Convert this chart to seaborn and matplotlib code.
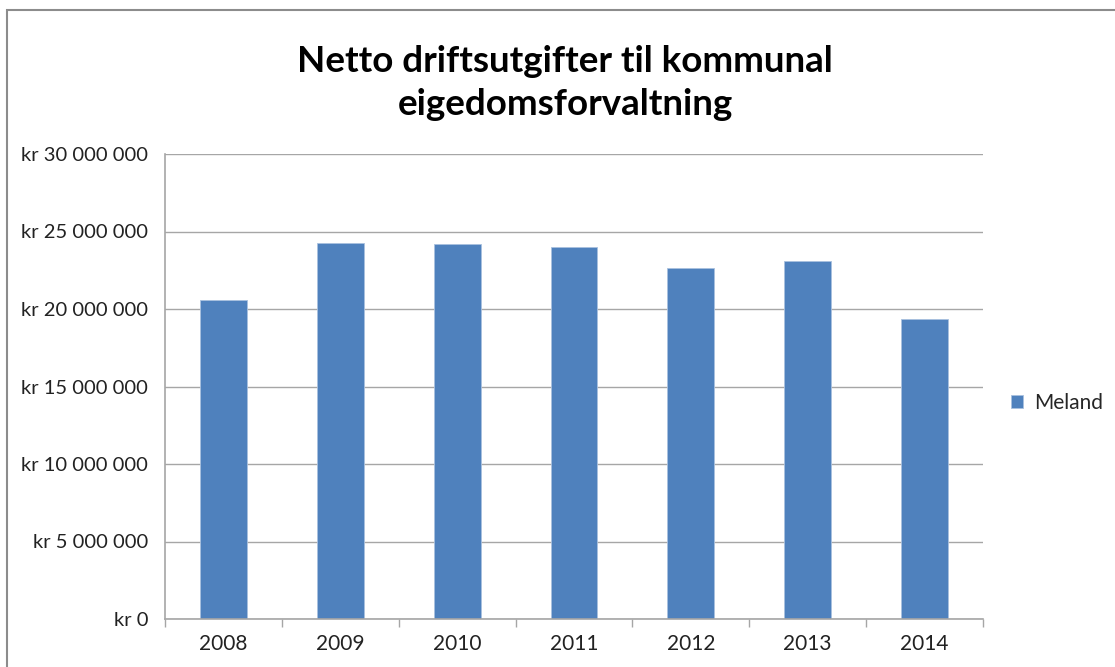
import matplotlib
matplotlib.use("Agg")
import matplotlib.pyplot as plt
from matplotlib.ticker import FuncFormatter, FixedLocator, MultipleLocator
from matplotlib.patches import Rectangle
import seaborn as sns
import pandas as pd

years = ["2008", "2009", "2010", "2011", "2012", "2013", "2014"]
meland = [20580000, 24270000, 24180000, 23990000, 22660000, 23070000, 19330000]
series_name = "Meland"
title = "Netto driftsutgifter til kommunal\neigedomsforvaltning"

df = pd.DataFrame({"year": years, "value": meland, "series": series_name})

sns.set_theme(style="white")
plt.rcParams["font.family"] = ["Lato", "DejaVu Sans"]

fig = plt.figure(figsize=(11.15, 6.67), dpi=100)
ax = fig.add_axes([165 / 1115, 1 - 619 / 667, (983 - 165) / 1115, (619 - 154) / 667])

sns.barplot(data=df, x="year", y="value", hue="series", palette=["#4F81BD"],
            width=0.4, dodge=False, ax=ax, saturation=1, edgecolor="#A9C1DF", linewidth=0.6)

ax.set_ylim(0, 30000000)
ax.set_xlim(-0.5, len(years) - 0.5)
ax.yaxis.set_major_locator(MultipleLocator(5000000))
ax.yaxis.set_major_formatter(FuncFormatter(lambda v, p: "kr " + f"{int(v):,}".replace(",", " ")))
ax.set_xlabel("")
ax.set_ylabel("")

ax.grid(axis="y", color="#A6A6A6", linewidth=1.0)
ax.set_axisbelow(True)
for s in ["top", "right"]:
    ax.spines[s].set_visible(False)
for s in ["left", "bottom"]:
    ax.spines[s].set_visible(True)
    ax.spines[s].set_color("#A6A6A6")
    ax.spines[s].set_linewidth(1.2)

ax.tick_params(axis="y", which="major", length=6, width=1, color="#A6A6A6", direction="out",
               labelsize=14.5, labelcolor="#222222", pad=6)
ax.tick_params(axis="x", which="major", length=0, labelsize=15, labelcolor="#222222", pad=11)
ax.xaxis.set_minor_locator(FixedLocator([i - 0.5 for i in range(len(years) + 1)]))
ax.tick_params(axis="x", which="minor", length=6, width=1, color="#A6A6A6", direction="out", bottom=True)

leg = ax.legend(loc="center left", bbox_to_anchor=(992 / 1115, 1 - 403 / 667),
                bbox_transform=fig.transFigure, frameon=False, fontsize=15,
                handlelength=0.6, handleheight=0.6, handletextpad=0.5)

fig.text(565 / 1115, 1 - 83 / 667, title, ha="center", va="center", fontsize=26.5,
         fontweight="bold", color="black", linespacing=1.35)

fig.patches.append(Rectangle((7 / 1115, -0.1), 1.2, 1.1 - 10 / 667, transform=fig.transFigure,
                             fill=False, edgecolor="#8C8C8C", linewidth=1.5))

fig.savefig("out.png", dpi=100)
